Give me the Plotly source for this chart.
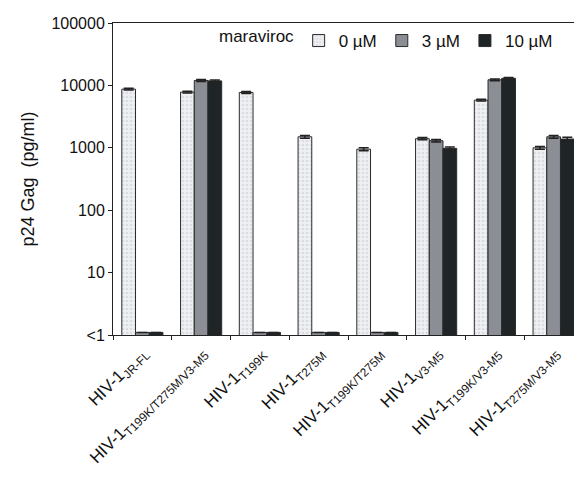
import plotly.graph_objects as go

categories = [
    "HIV-1<sub>JR-FL</sub>",
    "HIV-1<sub>T199K/T275M/V3-M5</sub>",
    "HIV-1<sub>T199K</sub>",
    "HIV-1<sub>T275M</sub>",
    "HIV-1<sub>T199K/T275M</sub>",
    "HIV-1<sub>V3-M5</sub>",
    "HIV-1<sub>T199K/V3-M5</sub>",
    "HIV-1<sub>T275M/V3-M5</sub>",
]
series_names = ["0 µM", "3 µM", "10 µM"]
vals_0uM = [8700, 7800, 7700, 1500, 950, 1400, 5800, 1000]
vals_3uM = [1.1, 12000, 1.1, 1.1, 1.1, 1300, 12300, 1500]
vals_10uM = [1.1, 11800, 1.1, 1.1, 1.1, 980, 13000, 1380]
err_0uM = [300, 250, 250, 80, 50, 60, 200, 50]
err_3uM = [0, 400, 0, 0, 0, 60, 400, 80]
err_10uM = [0, 400, 0, 0, 0, 50, 400, 90]
ytick_vals = [1, 10, 100, 1000, 10000, 100000]
ytick_text = ["<1", "10", "100", "1000", "10000", "100000"]
legend_title = "maraviroc"

FONT = "Liberation Sans, Arial, sans-serif"
fill_colors = ["#eceef1", "#8b8e95", "#1f2526"]
outline = "#2a2a2a"

fig = go.Figure()
all_vals = [vals_0uM, vals_3uM, vals_10uM]
all_errs = [err_0uM, err_3uM, err_10uM]
for i, name in enumerate(series_names):
    marker = dict(color=fill_colors[i], line=dict(color=outline, width=1))
    if i == 0:
        marker["pattern"] = dict(shape=".", fgcolor="#c3c9d1", bgcolor="#eef0f3",
                                 size=4, solidity=0.35)
    fig.add_trace(go.Bar(
        x=categories, y=all_vals[i], name=name, marker=marker,
        error_y=dict(type="data", array=all_errs[i], visible=True,
                     color="#222", thickness=1.5, width=5),
    ))

fig.update_layout(
    width=582, height=487,
    margin=dict(l=105, r=7, t=15, b=160, autoexpand=False),
    paper_bgcolor="white", plot_bgcolor="white",
    barmode="group", bargap=0.30, bargroupgap=0,
    font=dict(family=FONT, size=17, color="#111"),
    showlegend=True,
    legend=dict(orientation="h", x=0.395, y=1.0, xanchor="left", yanchor="top",
                font=dict(size=17, family=FONT), bgcolor="rgba(0,0,0,0)",
                itemwidth=30, tracegroupgap=0),
    annotations=[dict(text=legend_title, xref="paper", yref="paper",
                      x=0.222, y=0.958, xanchor="left", yanchor="middle",
                      showarrow=False, font=dict(size=17, family=FONT, color="#111"))],
    shapes=[dict(type="line", xref="paper", yref="paper", x0=1.008, x1=1.008,
                 y0=0.0, y1=0.985, line=dict(color="#2b2e2e", width=3))],
)
fig.update_xaxes(
    type="category", tickangle=-45, tickfont=dict(size=17, family=FONT),
    showline=True, linecolor="#222", linewidth=1, mirror=True,
    ticks="outside", ticklen=4, tickcolor="#222", tickson="boundaries",
    showgrid=False, automargin=False,
)
fig.update_yaxes(
    type="log", range=[0, 5], tickvals=ytick_vals, ticktext=ytick_text,
    tickfont=dict(size=16, family=FONT),
    title=dict(text="p24 Gag  (pg/ml)", font=dict(size=18, family=FONT), standoff=12),
    showline=True, linecolor="#222", linewidth=1, mirror=True,
    ticks="outside", ticklen=4, tickcolor="#222",
    showgrid=False, zeroline=False, automargin=False,
)

fig.write_html("out.html")
